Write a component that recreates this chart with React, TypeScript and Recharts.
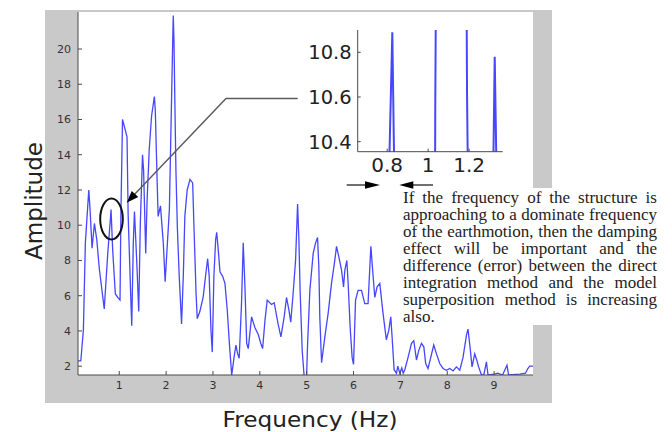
import { Line, LineChart, XAxis, YAxis } from "recharts";

// Frequency spectrum of the earthmotion
const FREQ_HZ = [
  0.115, 0.18, 0.235, 0.277, 0.35, 0.377, 0.42, 0.47, 0.52, 0.576,
  0.68, 0.755, 0.81, 0.825, 0.86, 0.917, 0.968, 1.017, 1.035, 1.07,
  1.13, 1.166, 1.19, 1.25, 1.267, 1.3, 1.325, 1.373, 1.416, 1.45,
  1.497, 1.52, 1.565, 1.593, 1.64, 1.69, 1.75, 1.77, 1.806, 1.83,
  1.88, 1.94, 1.98, 2.07, 2.14, 2.153, 2.168, 2.19, 2.21, 2.24,
  2.28, 2.33, 2.367, 2.4, 2.45, 2.51, 2.567, 2.595, 2.64, 2.665,
  2.72, 2.79, 2.85, 2.887, 2.92, 2.957, 2.985, 3.02, 3.058, 3.08,
  3.113, 3.15, 3.207, 3.256, 3.305, 3.35, 3.4, 3.45, 3.49, 3.527,
  3.56, 3.61, 3.646, 3.68, 3.72, 3.753, 3.825, 3.895, 3.966, 4.02,
  4.06, 4.11, 4.158, 4.25, 4.307, 4.39, 4.45, 4.52, 4.57, 4.62,
  4.66, 4.71, 4.763, 4.806, 4.834, 4.86, 4.904, 4.947, 4.998, 5.02,
  5.068, 5.139, 5.19, 5.232, 5.26, 5.28, 5.318, 5.388, 5.458, 5.53,
  5.6, 5.637, 5.687, 5.744, 5.787, 5.815, 5.857, 5.885, 5.928, 5.97,
  6.0, 6.043, 6.098, 6.17, 6.24, 6.31, 6.37, 6.418, 6.454, 6.503,
  6.56, 6.63, 6.7, 6.753, 6.795, 6.823, 6.866, 6.917, 6.944, 6.987,
  7.03, 7.06, 7.094, 7.164, 7.237, 7.286, 7.343, 7.392, 7.45, 7.5,
  7.54, 7.59, 7.648, 7.712, 7.77, 7.84, 7.91, 7.98, 8.053, 8.124,
  8.196, 8.267, 8.337, 8.41, 8.443, 8.486, 8.529, 8.586, 8.629, 8.67,
  8.73, 8.78, 8.836, 8.87, 9.01, 9.08, 9.18, 9.275, 9.31, 9.55,
  9.67, 9.72, 9.76, 9.83,
];

const AMPLITUDE = [
  2.3, 2.3, 4.05, 9.0, 12.0, 10.9, 8.7, 10.1, 9.2, 7.5,
  5.25, 8.4, 10.3, 10.89, 8.6, 6.1, 5.9, 5.75, 10.6, 16.0,
  15.4, 15.0, 10.6, 5.6, 4.3, 9.0, 10.78, 8.0, 5.1, 10.1,
  14.0, 13.1, 8.4, 11.3, 14.3, 16.2, 17.3, 16.5, 12.75, 10.5,
  11.1, 9.0, 6.8, 10.9, 20.3, 21.9, 20.5, 16.5, 13.1, 9.9,
  7.1, 4.4, 7.1, 10.5, 12.0, 12.6, 12.4, 9.9, 6.1, 4.7,
  5.1, 5.9, 7.3, 8.1, 7.1, 4.05, 2.8, 7.1, 9.2, 9.6,
  8.6, 7.35, 7.1, 6.7, 5.2, 3.3, 1.5, 2.5, 3.2, 2.7,
  2.45, 5.6, 9.0, 6.7, 3.3, 3.0, 4.8, 4.2, 3.8, 3.3,
  3.0, 4.6, 5.75, 5.5, 5.6, 4.4, 3.66, 4.8, 5.9, 5.2,
  4.5, 6.1, 8.0, 11.2, 9.2, 6.3, 2.9, 1.4, 1.4, 3.3,
  6.3, 8.4, 9.0, 9.3, 7.6, 4.8, 2.2, 3.66, 5.0, 6.7,
  8.0, 8.8, 8.2, 7.45, 6.5, 7.45, 8.0, 6.7, 4.2, 2.5,
  2.1, 5.75, 6.3, 6.3, 5.55, 5.55, 8.8, 7.1, 5.9, 6.5,
  6.7, 5.0, 3.5, 4.05, 4.8, 3.66, 1.8, 1.6, 2.0, 1.6,
  1.9, 1.6, 1.8, 2.5, 3.3, 3.45, 2.35, 2.9, 3.3, 3.1,
  2.15, 1.87, 2.5, 3.2, 2.7, 2.15, 1.87, 1.77, 1.87, 1.73,
  1.96, 1.77, 2.5, 3.76, 4.1, 3.1, 1.96, 2.7, 2.35, 1.96,
  1.5, 1.5, 2.25, 1.5, 1.55, 1.6, 1.5, 2.05, 1.5, 1.55,
  1.6, 1.87, 2.0, 2.0,
];

const X_TICKS = [1, 2, 3, 4, 5, 6, 7, 8, 9];
const Y_TICKS = [2, 4, 6, 8, 10, 12, 14, 16, 18, 20];
const INSET_X_TICKS = [0.8, 1, 1.2];
const INSET_Y_TICKS = [10.4, 10.6, 10.8];

const NOTE_LINES = [
  "If the frequency of the structure is",
  "approaching to a dominate frequency",
  "of the earthmotion, then the damping",
  "effect will be important and the",
  "difference (error) between the direct",
  "integration method and the model",
  "superposition method is increasing",
  "also.",
];

const data = FREQ_HZ.map((f, i) => ({ f, amp: AMPLITUDE[i] }));

const BLUE = "#4646ff";
const AXIS = "#4a4a4a";
const SANS = "DejaVu Sans, Verdana, sans-serif";

function ArrowHead({
  x1,
  y1,
  x2,
  y2,
  len,
  half,
}: {
  x1: number;
  y1: number;
  x2: number;
  y2: number;
  len: number;
  half: number;
}) {
  const d = Math.hypot(x2 - x1, y2 - y1);
  const ux = (x2 - x1) / d;
  const uy = (y2 - y1) / d;
  const bx = x2 - ux * len;
  const by = y2 - uy * len;
  const pts = `${x2},${y2} ${bx - uy * half},${by + ux * half} ${bx + uy * half},${by - ux * half}`;
  return <polygon points={pts} fill="#000" />;
}

export default function App() {
  return (
    <div
      style={{
        position: "absolute",
        left: 0,
        top: 0,
        width: 672,
        height: 432,
        background: "#fff",
        overflow: "hidden",
      }}
    >
      {/* grey figure frame + white axes area */}
      <div
        style={{
          position: "absolute",
          left: 45,
          top: 9.5,
          width: 507,
          height: 393.5,
          background: "#c9c9c9",
        }}
      />
      <div
        style={{
          position: "absolute",
          left: 78,
          top: 12,
          width: 455,
          height: 363,
          background: "#fff",
        }}
      />

      {/* main spectrum */}
      <div style={{ position: "absolute", left: 0, top: 0 }}>
        <LineChart
          width={672}
          height={432}
          data={data}
          margin={{ top: 12, right: 139, bottom: 0, left: 0 }}
        >
          <XAxis
            type="number"
            dataKey="f"
            domain={[0.12, 9.83]}
            ticks={X_TICKS}
            allowDataOverflow
            height={57}
            stroke={AXIS}
            tickSize={-4}
            tickMargin={10}
            tick={{ fontSize: 11, fill: "#333", fontFamily: SANS }}
          />
          <YAxis
            type="number"
            domain={[1.5, 22.1]}
            ticks={Y_TICKS}
            allowDataOverflow
            width={78}
            stroke={AXIS}
            tickSize={-4}
            tickMargin={11}
            tick={{ fontSize: 11, fill: "#333", fontFamily: SANS }}
          />
          <Line
            type="linear"
            dataKey="amp"
            stroke={BLUE}
            strokeWidth={1.3}
            dot={false}
            isAnimationActive={false}
          />
        </LineChart>
      </div>

      {/* zoomed inset around 1 Hz */}
      <div style={{ position: "absolute", left: 280, top: 0 }}>
        <LineChart
          width={240}
          height={200}
          data={data}
          margin={{ top: 30, right: 17.3, bottom: 0, left: 0 }}
        >
          <XAxis
            type="number"
            dataKey="f"
            domain={[0.656, 1.364]}
            ticks={INSET_X_TICKS}
            allowDataOverflow
            height={48.3}
            stroke={AXIS}
            tickSize={-3}
            tickMargin={9}
            tick={{ fontSize: 20, fill: "#222", fontFamily: SANS }}
          />
          <YAxis
            type="number"
            domain={[10.355, 10.9]}
            ticks={INSET_Y_TICKS}
            allowDataOverflow
            width={77.7}
            stroke={AXIS}
            tickSize={-3}
            tickMargin={9}
            tick={{ fontSize: 19.5, fill: "#222", fontFamily: SANS }}
          />
          <Line
            type="linear"
            dataKey="amp"
            stroke={BLUE}
            strokeWidth={2}
            dot={false}
            isAnimationActive={false}
          />
        </LineChart>
      </div>

      {/* explanatory note */}
      <div
        style={{
          position: "absolute",
          left: 398,
          top: 188,
          width: 266,
          height: 137,
          background: "#fff",
        }}
      />
      <div
        style={{
          position: "absolute",
          left: 403,
          top: 188.5,
          width: 254,
          fontFamily: "Liberation Serif, Times New Roman, serif",
          fontSize: 17,
          lineHeight: "17px",
          color: "#222",
        }}
      >
        {NOTE_LINES.map((line, i) => (
          <div
            key={i}
            style={{
              display: "flex",
              justifyContent:
                i === NOTE_LINES.length - 1 ? "flex-start" : "space-between",
              whiteSpace: "nowrap",
            }}
          >
            {line.split(" ").map((w, j) => (
              <span key={j}>{w}</span>
            ))}
          </div>
        ))}
      </div>

      {/* annotations and axis titles */}
      <svg
        width={672}
        height={432}
        style={{ position: "absolute", left: 0, top: 0, pointerEvents: "none" }}
      >
        <ellipse
          cx={111.5}
          cy={219}
          rx={11.3}
          ry={20.5}
          fill="none"
          stroke="#111"
          strokeWidth={2}
        />
        <polyline
          points="297.7,98.5 226,98.5 132,197"
          fill="none"
          stroke="#5a5a5a"
          strokeWidth={1.4}
        />
        <ArrowHead x1={226} y1={98.5} x2={126.7} y2={202.7} len={12} half={4.5} />

        <line x1={346.7} y1={185} x2={370} y2={185} stroke="#222" strokeWidth={1.3} />
        <ArrowHead x1={346.7} y1={185} x2={380} y2={185} len={15} half={3.8} />
        <line x1={433} y1={185} x2={410} y2={185} stroke="#222" strokeWidth={1.3} />
        <ArrowHead x1={433} y1={185} x2={399.3} y2={185} len={14} half={3.8} />

        <text
          x={310}
          y={426.5}
          textAnchor="middle"
          fontFamily={SANS}
          fontSize={22}
          fill="#222"
          textLength={175}
          lengthAdjust="spacingAndGlyphs"
        >
          Frequency (Hz)
        </text>
        <text
          transform="translate(42,201) rotate(-90)"
          textAnchor="middle"
          fontFamily={SANS}
          fontSize={23}
          fill="#222"
          textLength={118}
          lengthAdjust="spacingAndGlyphs"
        >
          Amplitude
        </text>
      </svg>
    </div>
  );
}
